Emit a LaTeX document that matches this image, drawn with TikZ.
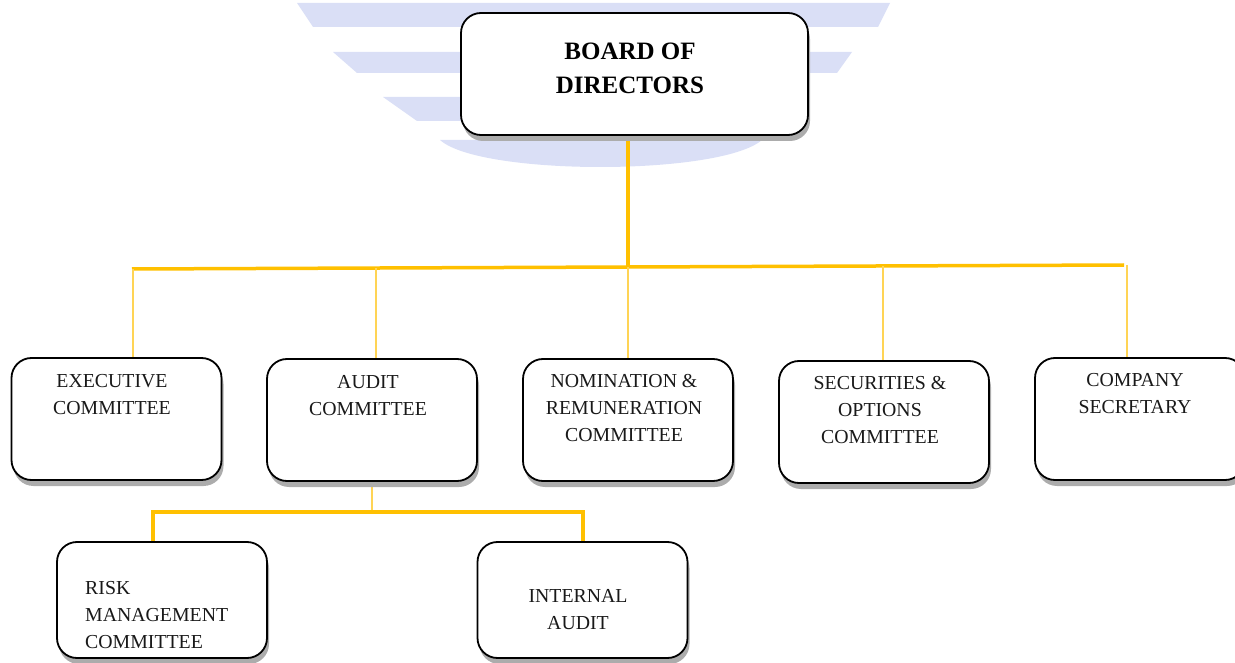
\documentclass[tikz,border=0pt]{standalone}
\usepackage{fontspec}
\setmainfont{Liberation Serif}
\usetikzlibrary{shadows}
\pgfdeclarelayer{bg}
\pgfsetlayers{bg,main}
\definecolor{wm}{RGB}{218,223,246}
\definecolor{gold}{RGB}{255,192,0}
\definecolor{goldl}{RGB}{255,212,85}
\tikzset{
  box/.style={draw=black, line width=1.8pt, fill=white, rounded corners=20pt, inner sep=0pt,
    drop shadow={shadow xshift=2pt, shadow yshift=-6pt, fill=gray!65, opacity=1}},
  topbox/.style={box, minimum width=210pt, minimum height=122pt},
  lowbox/.style={box, minimum width=210pt, minimum height=116pt},
  lbl/.style={align=center, font=\fontsize{19.8}{27}\selectfont, inner sep=0pt, text=black!90},
  boldlbl/.style={align=center, font=\fontsize{25}{34}\selectfont\bfseries, inner sep=0pt},
  mainlink/.style={draw=gold, line width=3.5pt},
  sublink/.style={draw=goldl, line width=1.2pt},
  band/.style={fill=wm, draw=none},
}
\begin{document}
\begin{tikzpicture}[x=1pt,y=-1pt]
\useasboundingbox (0,0) rectangle (1235,663);
% watermark
\begin{pgfonlayer}{bg}
\fill[band] (297,3) -- (890,3) -- (878,27) -- (313,27) -- cycle;
\fill[band] (333,52) -- (852,52) -- (837,73) -- (357,73) -- cycle;
\fill[band] (383,97) -- (800,97) -- (800,121) -- (417,121) -- cycle;
\fill[band] (440,140) .. controls (480,176) and (720,176) .. (762,140) -- cycle;
\end{pgfonlayer}

% junction coordinates
\coordinate (busL) at (132,269);
\coordinate (busR) at (1124,265);
\coordinate (jB) at (628,267);
\coordinate (tE) at (133,269);
\coordinate (tA) at (376,268);
\coordinate (tN) at (628,267);
\coordinate (tS) at (883,266);
\coordinate (tC) at (1127,265);
\coordinate (sJ) at (372,512);
\coordinate (sL) at (153,512);
\coordinate (sR) at (583,512);

% boxes
\node[box, minimum width=347pt, minimum height=122pt] (board) at (634.5,74) {};
\node[topbox] (exec) at (116.5,419) {};
\node[topbox] (audit) at (372,420) {};
\node[topbox] (nom) at (628,420) {};
\node[topbox] (sec) at (884,422) {};
\node[topbox] (comp) at (1140,419) {};
\node[lowbox] (risk) at (162,600) {};
\node[lowbox] (inta) at (582.5,600) {};

% labels
\node[boldlbl] (boardt) at (630,68) {BOARD OF\\DIRECTORS};
\node[lbl] (exect) at (112,394.5) {EXECUTIVE\\COMMITTEE};
\node[lbl] (auditt) at (368,395.5) {AUDIT\\COMMITTEE};
\node[lbl] (nomt) at (624,408.5) {NOMINATION \&\\REMUNERATION\\COMMITTEE};
\node[lbl] (sect) at (880,410) {SECURITIES \&\\OPTIONS\\COMMITTEE};
\node[lbl] (compt) at (1135,393.5) {COMPANY\\SECRETARY};
\node[lbl, align=left, anchor=west] (riskt) at (85,615) {RISK\\MANAGEMENT\\COMMITTEE};
\node[lbl] (intat) at (578,609.5) {INTERNAL\\AUDIT};

% connectors
\begin{pgfonlayer}{bg}
\draw[mainlink] (board.south -| jB) -- (jB);
\draw[mainlink] (busL) -- (busR);
\draw[sublink] (tE) -- (tE |- exec.north);
\draw[sublink] (tA) -- (tA |- audit.north);
\draw[sublink] (tN) -- (tN |- nom.north);
\draw[sublink] (tS) -- (tS |- sec.north);
\draw[sublink] (tC) -- (tC |- comp.north);
\draw[sublink] (audit.south -| sJ) -- (sJ);
\draw[mainlink, line cap=rect] (risk.north -| sL) -- (sL) -- (sR) -- (inta.north -| sR);
\end{pgfonlayer}
\end{tikzpicture}
\end{document}
